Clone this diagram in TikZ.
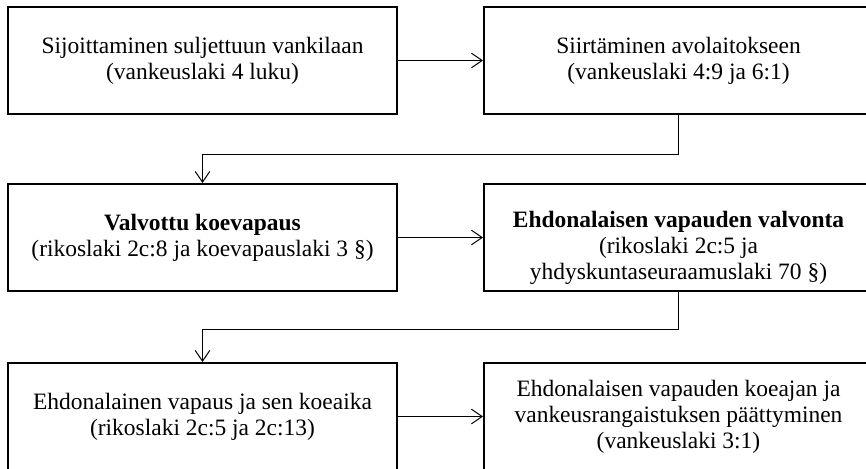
\documentclass[tikz,border=0pt]{standalone}
\usepackage{fontspec}
\setmainfont{Liberation Serif}
\usepackage{tikz}
\usetikzlibrary{arrows.meta}

\begin{document}
\begin{tikzpicture}[x=0.75pt, y=-0.75pt,
    minimum width=291.75pt, minimum height=80.25pt, inner sep=0pt,
    font=\fontsize{17.6}{19.5}\selectfont,
    box/.style={draw, align=center, line width=1.5pt},
    >={Straight Barb[length=8pt, width=11pt]}, line width=0.75pt]
    \useasboundingbox (0,0) rectangle (866,468);
    \clip (0,0) rectangle (866,468);

    \node[box]  (S)   at (202.5,  60.5)   {Sijoittaminen suljettuun vankilaan \\ (vankeuslaki 4 luku)};
    \node[box]  (A)   at (678.5,  60.5)   {Siirtäminen avolaitokseen \\ (vankeuslaki 4:9 ja 6:1)};
    \node[box]  (VK)  at (202.5, 237.5)   {\textbf{Valvottu koevapaus} \\ (rikoslaki 2c:8 ja koevapauslaki 3 §)};
    \node[box]  (EV)  at (678.5, 237.5)   {};
    \node[align=center, anchor=north, minimum width=0pt, minimum height=0pt]  (EVt)  at ([yshift=-21pt]EV.north)
        {\textbf{Ehdonalaisen vapauden valvonta} \\ (rikoslaki 2c:5 ja \\ yhdyskuntaseuraamuslaki 70 §)};
    \node[box]  (EK)  at (202.5, 416.5)   {Ehdonalainen vapaus ja sen koeaika \\ (rikoslaki 2c:5 ja 2c:13)};
    \node[box]  (P)   at (678.5, 416.5)   {Ehdonalaisen vapauden koeajan ja \\ vankeusrangaistuksen päättyminen \\ (vankeuslaki 3:1)};

    \draw[->] (S) -- (A);
    \draw[->] (A.south) -- ++(0,39) -| (VK.north);

    \draw[->] (VK) -- (EV);
    \draw[->] (EV.south) -- ++(0,37) -| (EK.north);

    \draw[->] (EK) -- (P);
  \end{tikzpicture}
\end{document}
